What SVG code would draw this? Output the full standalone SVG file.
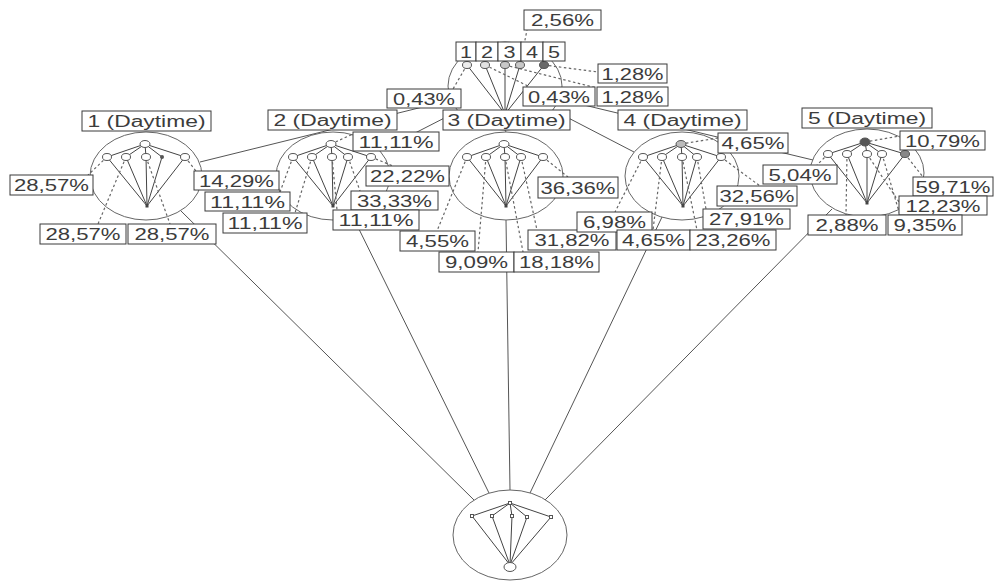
<svg xmlns="http://www.w3.org/2000/svg" width="1001" height="581" viewBox="0 0 1001 581">
<style>
  .bg{fill:#fff}
  .ell{fill:none;stroke:#666;stroke-width:1}
  .edge line{stroke:#555;stroke-width:1}
  .in{stroke:#444;stroke-width:1;fill:none}
  .dot{stroke:#666;stroke-width:1.2;stroke-dasharray:2.5 2.5;fill:none}
  .kid{fill:#fff;stroke:#555;stroke-width:1}
  .root{fill:#444}
  .lb rect{fill:#fff;stroke:#3a3a3a;stroke-width:1}
  .lb text{font-family:"Liberation Sans",Arial,sans-serif;font-size:16px;fill:#3c3c3c;text-anchor:middle}
</style>
<rect class="bg" x="0" y="0" width="1001" height="581"/>

<!-- edges between the daytime nodes -->
<g id="connectors" class="edge">
  <line x1="451" y1="100" x2="200" y2="162"/>
  <line x1="458" y1="111" x2="380" y2="151"/>
  <line x1="505" y1="130" x2="506" y2="132"/>
  <line x1="553" y1="110" x2="634" y2="152"/>
  <line x1="559" y1="99" x2="813" y2="160"/>
  <line x1="181" y1="211" x2="474" y2="500"/>
  <line x1="353" y1="217" x2="489" y2="493"/>
  <line x1="506" y1="220" x2="510" y2="490"/>
  <line x1="662" y1="217" x2="530" y2="493"/>
  <line x1="832" y1="209" x2="545" y2="500"/>
</g>

<!-- top node -->
<g id="node-top">
  <ellipse class="ell" cx="505" cy="86" rx="57" ry="44"/>
  <path class="in" d="M467 65L505 114M485 65L505 114M505 65L505 114M520 65L505 114M544 65L505 114"/>
  <path class="dot" d="M467 65L453 89M485 65L530 87M505 65L597 88M520 65L527 30M544 65L598 72"/>
  <ellipse class="kid" cx="467" cy="65" rx="4.5" ry="3.5" style="fill:#eee"/>
  <ellipse class="kid" cx="485" cy="65" rx="4.5" ry="3.5" style="fill:#e2e2e2"/>
  <ellipse class="kid" cx="505" cy="65" rx="4.5" ry="3.5" style="fill:#c8c8c8"/>
  <ellipse class="kid" cx="520" cy="65" rx="4.5" ry="3.5" style="fill:#c8c8c8"/>
  <ellipse class="kid" cx="544" cy="65" rx="4.5" ry="3.5" style="fill:#6a6a6a"/>
</g>

<!-- node 1 -->
<g id="node-1">
  <ellipse class="ell" cx="146" cy="176" rx="56" ry="44"/>
  <path class="in" d="M145 144L107 157M145 144L126 157M145 144L146 157M145 144L162 157M145 144L185 157M107 157L147 206M126 157L147 206M146 157L147 206M162 157L147 206M185 157L147 206"/>
  <path class="dot" d="M107 157L88 175M126 157L98 224M146 157L170 224M185 157L196 171"/>
  <ellipse class="kid" cx="145" cy="144" rx="5" ry="3.5"/>
  <ellipse class="kid" cx="107" cy="157" rx="4.5" ry="3.5"/>
  <ellipse class="kid" cx="126" cy="157" rx="4.5" ry="3.5"/>
  <ellipse class="kid" cx="146" cy="157" rx="4.5" ry="3.5"/>
  <ellipse cx="162" cy="157" rx="2" ry="2" fill="#555"/>
  <ellipse class="kid" cx="185" cy="157" rx="4.5" ry="3.5"/>
  <rect class="root" x="145.5" y="204.5" width="3" height="3"/>
</g>

<!-- node 2 -->
<g id="node-2">
  <ellipse class="ell" cx="333" cy="176" rx="57" ry="44"/>
  <path class="in" d="M331 144L293 157M331 144L312 157M331 144L332 157M331 144L348 157M331 144L371 157M293 157L333 206M312 157L333 206M332 157L333 206M348 157L333 206M371 157L333 206"/>
  <path class="dot" d="M331 144L353 134M293 157L280 192M312 157L295 213M332 157L337 210M348 157L360 191M371 157L393 166"/>
  <ellipse class="kid" cx="331" cy="144" rx="5" ry="3.5"/>
  <ellipse class="kid" cx="293" cy="157" rx="4.5" ry="3.5"/>
  <ellipse class="kid" cx="312" cy="157" rx="4.5" ry="3.5"/>
  <ellipse class="kid" cx="332" cy="157" rx="4.5" ry="3.5"/>
  <ellipse class="kid" cx="348" cy="157" rx="4.5" ry="3.5"/>
  <ellipse class="kid" cx="371" cy="157" rx="4.5" ry="3.5"/>
  <rect class="root" x="331.5" y="204.5" width="3" height="3"/>
</g>

<!-- node 3 -->
<g id="node-3">
  <ellipse class="ell" cx="506" cy="176" rx="57" ry="44"/>
  <path class="in" d="M504 144L467 157M504 144L486 157M504 144L505 157M504 144L521 157M504 144L543 157M467 157L506 206M486 157L506 206M505 157L506 206M521 157L506 206M543 157L506 206"/>
  <path class="dot" d="M467 157L437 231M486 157L478 252M505 157L523 252M521 157L537 230M543 157L568 177"/>
  <ellipse class="kid" cx="504" cy="144" rx="5" ry="3.5"/>
  <ellipse class="kid" cx="467" cy="157" rx="4.5" ry="3.5"/>
  <ellipse class="kid" cx="486" cy="157" rx="4.5" ry="3.5"/>
  <ellipse class="kid" cx="505" cy="157" rx="4.5" ry="3.5"/>
  <ellipse class="kid" cx="521" cy="157" rx="4.5" ry="3.5"/>
  <ellipse class="kid" cx="543" cy="157" rx="4.5" ry="3.5"/>
  <rect class="root" x="504.5" y="204.5" width="3" height="3"/>
</g>

<!-- node 4 -->
<g id="node-4">
  <ellipse class="ell" cx="682" cy="176" rx="57" ry="44"/>
  <path class="in" d="M681 144L643 157M681 144L662 157M681 144L682 157M681 144L697 157M681 144L721 157M643 157L683 206M662 157L683 206M682 157L683 206M697 157L683 206M721 157L683 206"/>
  <path class="dot" d="M681 144L718 138M643 157L615 212M662 157L653 230M682 157L697 230M697 157L706 209M721 157L760 186"/>
  <ellipse class="kid" cx="681" cy="144" rx="5" ry="3.5" style="fill:#bbb"/>
  <ellipse class="kid" cx="643" cy="157" rx="4.5" ry="3.5"/>
  <ellipse class="kid" cx="662" cy="157" rx="4.5" ry="3.5"/>
  <ellipse class="kid" cx="682" cy="157" rx="4.5" ry="3.5"/>
  <ellipse class="kid" cx="697" cy="157" rx="4.5" ry="3.5"/>
  <ellipse class="kid" cx="721" cy="157" rx="4.5" ry="3.5"/>
  <rect class="root" x="681.5" y="204.5" width="3" height="3"/>
</g>

<!-- node 5 -->
<g id="node-5">
  <ellipse class="ell" cx="867" cy="173" rx="57" ry="44"/>
  <path class="in" d="M865 142L828 154M865 142L847 154M865 142L867 154M865 142L882 154M865 142L905 154M828 154L867 203M847 154L867 203M867 154L867 203M882 154L867 203M905 154L867 203"/>
  <path class="dot" d="M865 142L900 136M828 154L817 165M847 154L846 215M867 154L899 202M882 154L900 215M905 154L923 177"/>
  <ellipse class="kid" cx="865" cy="142" rx="5" ry="4" style="fill:#555"/>
  <ellipse class="kid" cx="828" cy="154" rx="4.5" ry="3.5"/>
  <ellipse class="kid" cx="847" cy="154" rx="4.5" ry="3.5"/>
  <ellipse class="kid" cx="867" cy="154" rx="4.5" ry="3.5"/>
  <ellipse class="kid" cx="882" cy="154" rx="4.5" ry="3.5"/>
  <ellipse class="kid" cx="905" cy="154" rx="4.5" ry="3.5" style="fill:#888"/>
  <rect class="root" x="865.5" y="201.5" width="3" height="3"/>
</g>

<!-- bottom node -->
<g id="node-bottom">
  <ellipse class="ell" cx="510" cy="535" rx="57" ry="45"/>
  <path class="in" d="M510 503L472 516M510 503L492 516M510 503L512 516M510 503L527 517M510 503L551 517M472 516L510 565M492 516L510 565M512 516L510 565M527 517L510 565M551 517L510 565"/>
  <rect class="kid" x="508.5" y="501.5" width="3" height="3"/>
  <rect class="kid" x="470.5" y="514.5" width="3" height="3"/>
  <rect class="kid" x="490.5" y="514.5" width="3" height="3"/>
  <rect class="kid" x="510.5" y="514.5" width="3" height="3"/>
  <rect class="kid" x="525.5" y="515.5" width="3" height="3"/>
  <rect class="kid" x="549.5" y="515.5" width="3" height="3"/>
  <ellipse class="kid" cx="510" cy="567" rx="6" ry="4.5"/>
</g>

<!-- labels of the top node -->
<g id="labels-top">
  <g class="lb"><rect x="524" y="10" width="77" height="20"/><text x="562.5" y="26" textLength="63" lengthAdjust="spacingAndGlyphs">2,56%</text></g>
  <g class="lb"><rect x="456" y="42" width="20" height="19"/><text x="466" y="57.5" textLength="12" lengthAdjust="spacingAndGlyphs">1</text></g>
  <g class="lb"><rect x="476" y="42" width="22" height="19"/><text x="487" y="57.5" textLength="12" lengthAdjust="spacingAndGlyphs">2</text></g>
  <g class="lb"><rect x="498" y="42" width="23" height="19"/><text x="509.5" y="57.5" textLength="12" lengthAdjust="spacingAndGlyphs">3</text></g>
  <g class="lb"><rect x="521" y="42" width="22" height="19"/><text x="532" y="57.5" textLength="12" lengthAdjust="spacingAndGlyphs">4</text></g>
  <g class="lb"><rect x="543" y="42" width="22" height="19"/><text x="554" y="57.5" textLength="12" lengthAdjust="spacingAndGlyphs">5</text></g>
  <g class="lb"><rect x="598" y="64" width="69" height="19"/><text x="632.5" y="79.5" textLength="62" lengthAdjust="spacingAndGlyphs">1,28%</text></g>
  <g class="lb"><rect x="597" y="87" width="71" height="19"/><text x="632.5" y="102.5" textLength="62" lengthAdjust="spacingAndGlyphs">1,28%</text></g>
  <g class="lb"><rect x="387" y="89" width="74" height="19"/><text x="424" y="104.5" textLength="62" lengthAdjust="spacingAndGlyphs">0,43%</text></g>
  <g class="lb"><rect x="523" y="87" width="72" height="19"/><text x="559" y="102.5" textLength="62" lengthAdjust="spacingAndGlyphs">0,43%</text></g>
</g>

<!-- labels of node 1 -->
<g id="labels-1">
  <g class="lb"><rect x="82" y="111" width="129" height="20"/><text x="146.5" y="127" textLength="118" lengthAdjust="spacingAndGlyphs">1 (Daytime)</text></g>
  <g class="lb"><rect x="10" y="175" width="83" height="20"/><text x="51.5" y="191" textLength="75" lengthAdjust="spacingAndGlyphs">28,57%</text></g>
  <g class="lb"><rect x="40" y="224" width="86" height="20"/><text x="83" y="240" textLength="75" lengthAdjust="spacingAndGlyphs">28,57%</text></g>
  <g class="lb"><rect x="128" y="224" width="88" height="20"/><text x="172" y="240" textLength="75" lengthAdjust="spacingAndGlyphs">28,57%</text></g>
  <g class="lb"><rect x="194" y="171" width="85" height="19"/><text x="236.5" y="186.5" textLength="75" lengthAdjust="spacingAndGlyphs">14,29%</text></g>
</g>

<!-- labels of node 2 -->
<g id="labels-2">
  <g class="lb"><rect x="268" y="110" width="129" height="20"/><text x="332.5" y="126" textLength="118" lengthAdjust="spacingAndGlyphs">2 (Daytime)</text></g>
  <g class="lb"><rect x="353" y="132" width="86" height="19"/><text x="396" y="147.5" textLength="75" lengthAdjust="spacingAndGlyphs">11,11%</text></g>
  <g class="lb"><rect x="205" y="192" width="85" height="19"/><text x="247.5" y="207.5" textLength="75" lengthAdjust="spacingAndGlyphs">11,11%</text></g>
  <g class="lb"><rect x="223" y="213" width="84" height="20"/><text x="265" y="229" textLength="75" lengthAdjust="spacingAndGlyphs">11,11%</text></g>
  <g class="lb"><rect x="366" y="166" width="83" height="20"/><text x="407.5" y="182" textLength="75" lengthAdjust="spacingAndGlyphs">22,22%</text></g>
  <g class="lb"><rect x="351" y="191" width="87" height="19"/><text x="394.5" y="206.5" textLength="75" lengthAdjust="spacingAndGlyphs">33,33%</text></g>
  <g class="lb"><rect x="333" y="210" width="86" height="20"/><text x="376" y="226" textLength="75" lengthAdjust="spacingAndGlyphs">11,11%</text></g>
</g>

<!-- labels of node 3 -->
<g id="labels-3">
  <g class="lb"><rect x="443" y="110" width="127" height="20"/><text x="506.5" y="126" textLength="118" lengthAdjust="spacingAndGlyphs">3 (Daytime)</text></g>
  <g class="lb"><rect x="538" y="177" width="80" height="21"/><text x="578" y="193.5" textLength="75" lengthAdjust="spacingAndGlyphs">36,36%</text></g>
  <g class="lb"><rect x="400" y="231" width="75" height="20"/><text x="437.5" y="247" textLength="63" lengthAdjust="spacingAndGlyphs">4,55%</text></g>
  <g class="lb"><rect x="439" y="252" width="75" height="20"/><text x="476.5" y="268" textLength="63" lengthAdjust="spacingAndGlyphs">9,09%</text></g>
  <g class="lb"><rect x="514" y="252" width="85" height="20"/><text x="556.5" y="268" textLength="75" lengthAdjust="spacingAndGlyphs">18,18%</text></g>
  <g class="lb"><rect x="528" y="230" width="88" height="20"/><text x="572" y="246" textLength="75" lengthAdjust="spacingAndGlyphs">31,82%</text></g>
</g>

<!-- labels of node 4 -->
<g id="labels-4">
  <g class="lb"><rect x="618" y="110" width="129" height="20"/><text x="682.5" y="126" textLength="118" lengthAdjust="spacingAndGlyphs">4 (Daytime)</text></g>
  <g class="lb"><rect x="718" y="133" width="70" height="20"/><text x="753" y="149" textLength="63" lengthAdjust="spacingAndGlyphs">4,65%</text></g>
  <g class="lb"><rect x="577" y="212" width="75" height="20"/><text x="614.5" y="228" textLength="63" lengthAdjust="spacingAndGlyphs">6,98%</text></g>
  <g class="lb"><rect x="617" y="230" width="73" height="20"/><text x="653.5" y="246" textLength="63" lengthAdjust="spacingAndGlyphs">4,65%</text></g>
  <g class="lb"><rect x="690" y="230" width="86" height="20"/><text x="733" y="246" textLength="75" lengthAdjust="spacingAndGlyphs">23,26%</text></g>
  <g class="lb"><rect x="703" y="209" width="87" height="20"/><text x="746.5" y="225" textLength="75" lengthAdjust="spacingAndGlyphs">27,91%</text></g>
  <g class="lb"><rect x="717" y="186" width="80" height="20"/><text x="757" y="202" textLength="75" lengthAdjust="spacingAndGlyphs">32,56%</text></g>
</g>

<!-- labels of node 5 -->
<g id="labels-5">
  <g class="lb"><rect x="802" y="108" width="130" height="20"/><text x="867" y="124" textLength="118" lengthAdjust="spacingAndGlyphs">5 (Daytime)</text></g>
  <g class="lb"><rect x="900" y="131" width="85" height="19"/><text x="942.5" y="146.5" textLength="75" lengthAdjust="spacingAndGlyphs">10,79%</text></g>
  <g class="lb"><rect x="763" y="165" width="74" height="19"/><text x="800" y="180.5" textLength="63" lengthAdjust="spacingAndGlyphs">5,04%</text></g>
  <g class="lb"><rect x="913" y="177" width="80" height="19"/><text x="953" y="192.5" textLength="75" lengthAdjust="spacingAndGlyphs">59,71%</text></g>
  <g class="lb"><rect x="899" y="196" width="88" height="19"/><text x="943" y="211.5" textLength="75" lengthAdjust="spacingAndGlyphs">12,23%</text></g>
  <g class="lb"><rect x="808" y="215" width="78" height="20"/><text x="847" y="231" textLength="63" lengthAdjust="spacingAndGlyphs">2,88%</text></g>
  <g class="lb"><rect x="888" y="215" width="74" height="20"/><text x="925" y="231" textLength="63" lengthAdjust="spacingAndGlyphs">9,35%</text></g>
</g>
</svg>
